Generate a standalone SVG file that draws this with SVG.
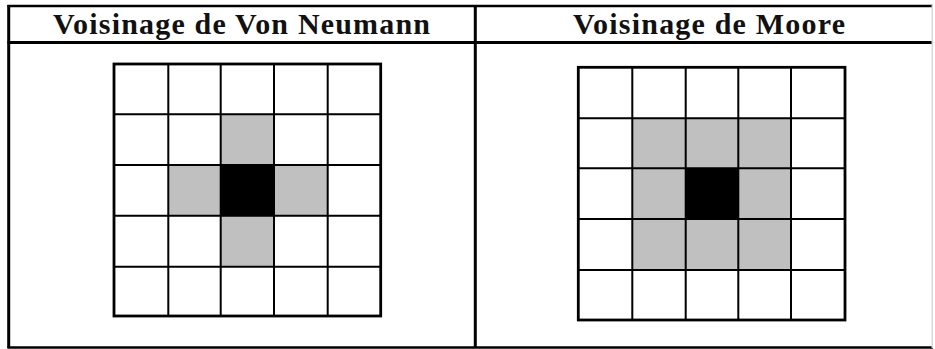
<svg xmlns="http://www.w3.org/2000/svg" width="935" height="349" viewBox="0 0 935 349">
  <style>
    .hdr { font-family: "Liberation Serif", "Times New Roman", serif; font-weight: bold; font-size: 30px; fill: #111; }
    .frame { fill: none; stroke: #000; stroke-width: 3; }
    .frame-thin { fill: none; stroke: #000; stroke-width: 2.5; }
    .grid { fill: none; stroke: #000; stroke-width: 2; }
    .outer { fill: none; stroke: #000; stroke-width: 2.8; }
    .g { fill: #c0c0c0; }
    .b { fill: #000; }
  </style>
  <rect width="935" height="349" fill="#fff"/>

  <g id="table">
    <line class="frame-thin" x1="7.5" y1="6" x2="933" y2="6"/>
    <line class="frame" x1="8.7" y1="5" x2="8.7" y2="348"/>
    <line class="frame" x1="7.5" y1="42.5" x2="933" y2="42.5"/>
    <line class="frame" x1="475.3" y1="5" x2="475.3" y2="348"/>
    <line class="frame-thin" x1="7.5" y1="347.5" x2="933" y2="347.5"/>
    <line x1="932.3" y1="5" x2="932.3" y2="348" stroke="#d8d8d8" stroke-width="1.5"/>
  </g>

  <g id="header-left">
    <text class="hdr" x="53" y="34.3" textLength="377" lengthAdjust="spacing">Voisinage de Von Neumann</text>
  </g>
  <g id="header-right">
    <text class="hdr" x="573" y="34" textLength="272" lengthAdjust="spacing">Voisinage de Moore</text>
  </g>

  <g id="von-neumann-grid">
    <rect class="g" x="220.7" y="114.3" width="53.3" height="50.7"/>
    <rect class="g" x="168.3" y="165" width="52.4" height="50.7"/>
    <rect class="g" x="274" y="165" width="53.7" height="50.7"/>
    <rect class="g" x="220.7" y="215.7" width="53.3" height="51"/>
    <rect class="b" x="220.7" y="165" width="53.3" height="50.7"/>
    <path class="grid" d="M168.3 64V316M220.7 64V316M274 64V316M327.7 64V316M114 114.3H380.7M114 165H380.7M114 215.7H380.7M114 266.7H380.7"/>
    <rect class="outer" x="114" y="64" width="266.7" height="252"/>
  </g>

  <g id="moore-grid">
    <rect class="g" x="632.3" y="118.3" width="158.7" height="151.7"/>
    <rect class="b" x="685.7" y="168.3" width="52.6" height="50.7"/>
    <path class="grid" d="M632.3 67.3V320M685.7 67.3V320M738.3 67.3V320M791 67.3V320M578.3 118.3H845M578.3 168.3H845M578.3 219H845M578.3 270H845"/>
    <rect class="outer" x="578.3" y="67.3" width="266.7" height="252.7"/>
  </g>
</svg>
